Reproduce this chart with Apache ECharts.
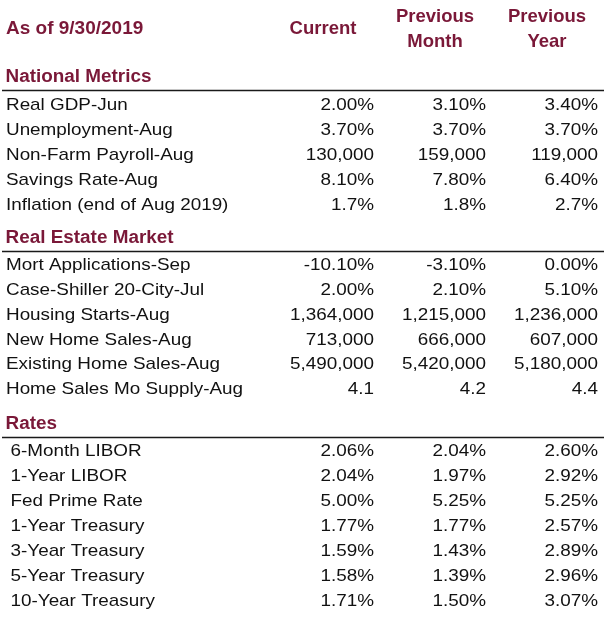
<!DOCTYPE html>
<html><head><meta charset="utf-8">
<script src="https://cdn.jsdelivr.net/npm/echarts@6/dist/echarts.min.js"></script>
<style>html,body{margin:0;padding:0;background:#fff}#c{width:614px;height:619px}</style>
</head><body><div id="c"></div>
<script>
// ---------- DATA ----------
const asOfLabel = 'As of 9/30/2019';
const columns = ['Current', 'Previous\nMonth', 'Previous\nYear'];

const nationalTitle = 'National Metrics';
const nationalRows = ['Real GDP-Jun', 'Unemployment-Aug', 'Non-Farm Payroll-Aug', 'Savings Rate-Aug', 'Inflation (end of Aug 2019)'];
const nationalFormats = ['pct2', 'pct2', 'int', 'pct2', 'pct1'];
const nationalCurrent = [2.00, 3.70, 130000, 8.10, 1.7];
const nationalPrevMonth = [3.10, 3.70, 159000, 7.80, 1.8];
const nationalPrevYear = [3.40, 3.70, 119000, 6.40, 2.7];

const realEstateTitle = 'Real Estate Market';
const realEstateRows = ['Mort Applications-Sep', 'Case-Shiller 20-City-Jul', 'Housing Starts-Aug', 'New Home Sales-Aug', 'Existing Home Sales-Aug', 'Home Sales Mo Supply-Aug'];
const realEstateFormats = ['pct2', 'pct2', 'int', 'int', 'int', 'dec1'];
const realEstateCurrent = [-10.10, 2.00, 1364000, 713000, 5490000, 4.1];
const realEstatePrevMonth = [-3.10, 2.10, 1215000, 666000, 5420000, 4.2];
const realEstatePrevYear = [0.00, 5.10, 1236000, 607000, 5180000, 4.4];

const ratesTitle = 'Rates';
const ratesRows = ['6-Month LIBOR', '1-Year LIBOR', 'Fed Prime Rate', '1-Year Treasury', '3-Year Treasury', '5-Year Treasury', '10-Year Treasury'];
const ratesFormats = ['pct2', 'pct2', 'pct2', 'pct2', 'pct2', 'pct2', 'pct2'];
const ratesCurrent = [2.06, 2.04, 5.00, 1.77, 1.59, 1.58, 1.71];
const ratesPrevMonth = [2.04, 1.97, 5.25, 1.77, 1.43, 1.39, 1.50];
const ratesPrevYear = [2.60, 2.92, 5.25, 2.57, 2.89, 2.96, 3.07];

// ---------- STYLE / LAYOUT ----------
const RED = '#7a1838';
const INK = '#111111';
const FONT = '"Liberation Sans", Arial, sans-serif';
const GRID_LEFT = 262, GRID_WIDTH = 336;
const LABEL_X = 6;

function fmt(v, f) {
  if (f === 'pct2') return v.toFixed(2) + '%';
  if (f === 'pct1') return v.toFixed(1) + '%';
  if (f === 'int') return Math.round(v).toLocaleString('en-US');
  if (f === 'dec1') return v.toFixed(1);
  return String(v);
}

const sections = [
  { title: nationalTitle, rows: nationalRows, formats: nationalFormats, cols: [nationalCurrent, nationalPrevMonth, nationalPrevYear], top: 67.2, band: 25.17, indent: 0 },
  { title: realEstateTitle, rows: realEstateRows, formats: realEstateFormats, cols: [realEstateCurrent, realEstatePrevMonth, realEstatePrevYear], top: 228.6, band: 24.76, indent: 0 },
  { title: ratesTitle, rows: ratesRows, formats: ratesFormats, cols: [ratesCurrent, ratesPrevMonth, ratesPrevYear], top: 413.7, band: 25.02, indent: 4.5 }
];

const grid = [], xAxis = [], yAxis = [], series = [];
sections.forEach((s, gi) => {
  const cats = [s.title].concat(s.rows);
  grid.push({ left: GRID_LEFT, width: GRID_WIDTH, top: s.top, height: s.band * cats.length });
  xAxis.push({
    gridIndex: gi, type: 'category', data: columns, position: 'top',
    axisLine: { show: false }, axisTick: { show: false }, splitLine: { show: false },
    axisLabel: gi === 0 ? {
      show: true, interval: 0, color: RED, fontWeight: 'bold', fontSize: 18.5, fontFamily: FONT,
      lineHeight: 25.5, verticalAlign: 'middle', margin: 38, padding: [0, 0, 0, 10]
    } : { show: false }
  });
  yAxis.push({
    gridIndex: gi, type: 'category', data: cats, inverse: true,
    axisLine: { show: false }, axisTick: { show: false }, axisLabel: { show: false }, splitLine: { show: false }
  });

  // value cells
  const cellData = [], cellText = [];
  s.rows.forEach((_, r) => {
    for (let c = 0; c < 3; c++) {
      cellData.push([c, r + 1]);
      cellText.push(fmt(s.cols[c][r], s.formats[r]));
    }
  });
  series.push({
    type: 'custom', xAxisIndex: gi, yAxisIndex: gi, clip: false, silent: true,
    encode: { x: 0, y: 1 }, data: cellData,
    renderItem: function (params, api) {
      const p = api.coord([api.value(0), api.value(1)]);
      const bw = api.size([1, 0])[0];
      return {
        type: 'text', x: p[0] + bw / 2, y: p[1], scaleX: 1.11,
        style: { text: cellText[params.dataIndex], align: 'right', verticalAlign: 'middle', fill: INK, fontSize: 17, fontFamily: FONT }
      };
    }
  });

  // row labels, section title and rule
  const labelData = cats.map((_, r) => [0, r]);
  series.push({
    type: 'custom', xAxisIndex: gi, yAxisIndex: gi, clip: false, silent: true,
    encode: { x: 0, y: 1 }, data: labelData,
    renderItem: function (params, api) {
      const r = api.value(1);
      const p = api.coord([0, r]);
      const cs = params.coordSys;
      const bh = api.size([0, 1])[1];
      if (r === 0) {
        const ly = Math.round(p[1] + bh / 2 - 2) + 0.5;
        return {
          type: 'group', children: [
            { type: 'text', x: LABEL_X - 0.5, y: p[1] - 2.5, scaleX: 1.05,
              style: { text: cats[0], align: 'left', verticalAlign: 'middle', fill: RED, fontSize: 18, fontWeight: 'bold', fontFamily: FONT } },
            { type: 'line', shape: { x1: 2, y1: ly, x2: cs.x + cs.width + 6, y2: ly },
              style: { stroke: '#1a1a1a', lineWidth: 1.3 } }
          ]
        };
      }
      return {
        type: 'text', x: LABEL_X + s.indent, y: p[1], scaleX: 1.11,
        style: { text: cats[r], align: 'left', verticalAlign: 'middle', fill: INK, fontSize: 17, fontFamily: FONT }
      };
    }
  });
});

const chart = echarts.init(document.getElementById('c'), null, { renderer: 'canvas' });
chart.setOption({
  animation: false,
  backgroundColor: '#ffffff',
  title: {
    text: asOfLabel, left: 6, top: 18, padding: 0,
    textStyle: { color: RED, fontWeight: 'bold', fontSize: 19, fontFamily: FONT, lineHeight: 22 }
  },
  grid: grid, xAxis: xAxis, yAxis: yAxis, series: series
});
</script>
</body></html>
